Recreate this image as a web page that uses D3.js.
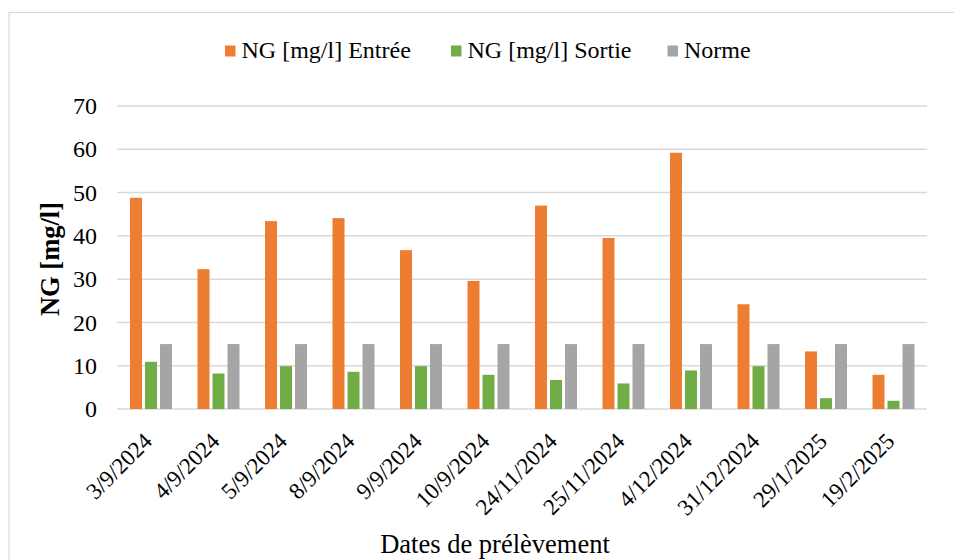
<!DOCTYPE html>
<html lang="fr">

<head>
	<meta charset="UTF-8">
	<title>NG Entrée / Sortie</title>

	<style>
		body {
			margin: 0;
			background: #fff;
		}
	</style>

	<script src="https://cdn.jsdelivr.net/npm/d3@7/dist/d3.min.js"></script>

</head>

<body>

	<script type="text/javascript">
		// data
		const dates = ["3/9/2024", "4/9/2024", "5/9/2024", "8/9/2024", "9/9/2024", "10/9/2024",
			"24/11/2024", "25/11/2024", "4/12/2024", "31/12/2024", "29/1/2025", "19/2/2025"];
		const entree = [48.8, 32.3, 43.4, 44.1, 36.7, 29.6, 47.0, 39.5, 59.2, 24.2, 13.3, 7.9];
		const sortie = [10.9, 8.2, 9.9, 8.6, 9.9, 7.9, 6.7, 5.9, 8.9, 9.9, 2.5, 1.9];
		const norme = [15, 15, 15, 15, 15, 15, 15, 15, 15, 15, 15, 15];
		const seriesNames = ["NG [mg/l] Entrée", "NG [mg/l] Sortie", "Norme"];
		const seriesColors = ["#ED7D31", "#70AD47", "#A5A5A5"];
		const yTicks = [0, 10, 20, 30, 40, 50, 60, 70];

		const FONT = "'Liberation Serif', 'Times New Roman', serif";

		let width = 954;
		let height = 560;
		const margin = { top: 106, right: 27, bottom: 151, left: 117 };

		const svg = d3.select("body").append("svg")
			.attr("width", width)
			.attr("height", height)
			.style("font-family", FONT);

		// chart frame
		svg.append("rect")
			.attr("x", 9)
			.attr("y", 12.5)
			.attr("width", width + 20)
			.attr("height", height + 20)
			.style("fill", "none")
			.style("stroke", "#d9d9d9")
			.style("stroke-width", 1.2);

		const x = d3.scaleBand()
			.domain(dates)
			.range([margin.left, width - margin.right]);

		const xs = d3.scaleBand()
			.domain(seriesNames)
			.range([13, 55])
			.paddingInner(0.2);

		const y = d3.scaleLinear()
			.domain([0, 70])
			.range([height - margin.bottom, margin.top]);

		// grid
		svg.append("g")
			.selectAll("line")
			.data(yTicks)
			.join("line")
			.attr("x1", margin.left)
			.attr("x2", width - margin.right)
			.attr("y1", d => y(d))
			.attr("y2", d => y(d))
			.style("stroke", "#d9d9d9")
			.style("stroke-width", 1.5);

		// y axis labels
		const yAxis = svg.append("g")
			.attr("transform", "translate(" + (margin.left - 20) + ",0)")
			.call(d3.axisLeft(y).tickValues(yTicks).tickSize(0).tickPadding(0));
		yAxis.attr("font-family", FONT).attr("font-size", 24);
		yAxis.select(".domain").remove();
		yAxis.selectAll("text").attr("fill", "#000");

		// bars
		const rows = dates.map((d, i) => ({ date: d, values: [entree[i], sortie[i], norme[i]] }));

		svg.append("g")
			.selectAll("g")
			.data(rows)
			.join("g")
			.attr("transform", d => "translate(" + x(d.date) + ",0)")
			.selectAll("rect")
			.data(d => d.values.map((v, k) => ({ name: seriesNames[k], value: v, color: seriesColors[k] })))
			.join("rect")
			.attr("x", d => xs(d.name))
			.attr("width", xs.bandwidth())
			.attr("y", d => y(d.value))
			.attr("height", d => y(0) - y(d.value))
			.style("fill", d => d.color);

		// x axis labels, rotated
		const xAxis = svg.append("g")
			.attr("transform", "translate(-3," + (y(0) + 28) + ")")
			.call(d3.axisBottom(x).tickSize(0).tickPadding(0));
		xAxis.attr("font-family", FONT).attr("font-size", 23);
		xAxis.select(".domain").remove();
		xAxis.selectAll("text")
			.attr("fill", "#000")
			.attr("y", 0)
			.attr("dy", "0.35em")
			.attr("text-anchor", "end")
			.attr("transform", "rotate(-45)");

		// axis titles
		svg.append("text")
			.attr("x", 495)
			.attr("y", 553)
			.attr("text-anchor", "middle")
			.style("font-size", "26.5px")
			.text("Dates de prélèvement");

		svg.append("text")
			.attr("transform", "translate(58.5,259) rotate(-90)")
			.attr("text-anchor", "middle")
			.style("font-size", "26.5px")
			.style("font-weight", "bold")
			.text("NG [mg/l]");

		// legend
		const legendX = [225, 451, 667.5];
		const legend = svg.append("g")
			.selectAll("g")
			.data(seriesNames)
			.join("g")
			.attr("transform", (d, i) => "translate(" + legendX[i] + ",45.5)");

		legend.append("rect")
			.attr("width", 10.5)
			.attr("height", 11)
			.style("fill", (d, i) => seriesColors[i]);

		legend.append("text")
			.attr("x", 16.5)
			.attr("y", 12)
			.style("font-size", "24px")
			.text(d => d);
	</script>

</body>

</html>
